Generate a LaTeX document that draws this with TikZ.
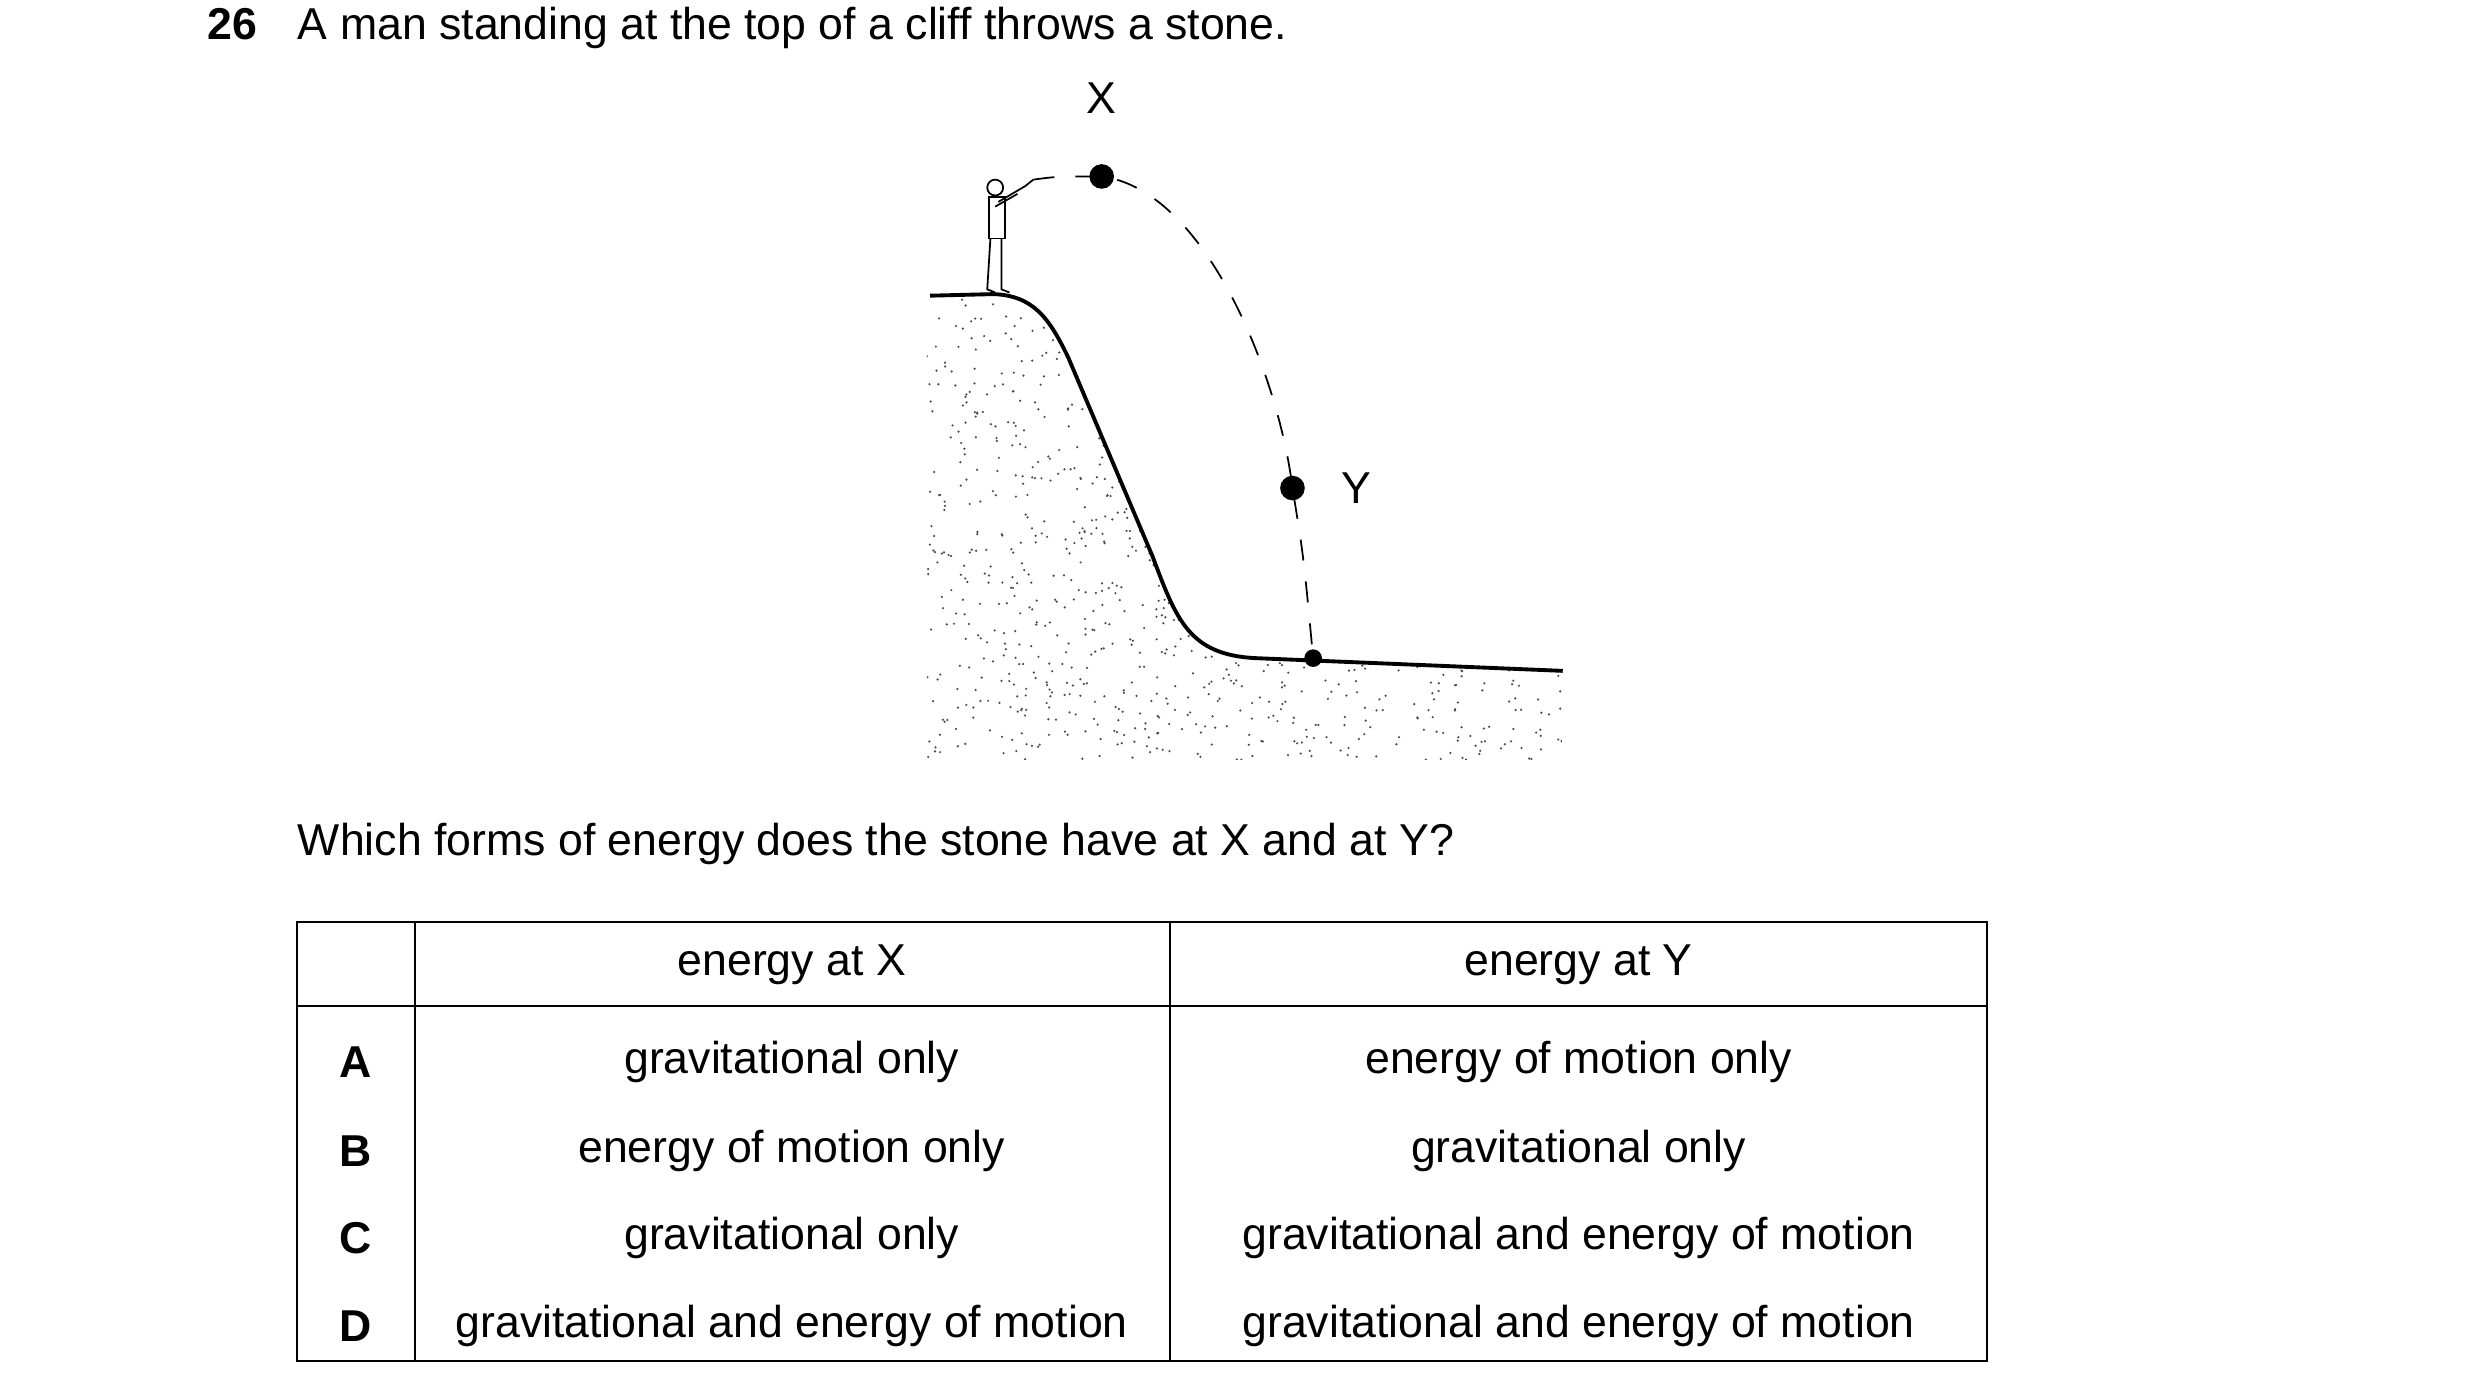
\documentclass[tikz,border=0pt]{standalone}
\usepackage{fontspec}
\setmainfont{Liberation Sans}
\usetikzlibrary{positioning}
\tikzset{
  txt/.style={inner sep=0pt, font=\fontsize{12.7}{15}\selectfont},
  cell/.style={txt, anchor=center},
  letter/.style={txt, font=\fontsize{12.7}{15}\selectfont\bfseries},
  stone/.style={circle, fill=black, inner sep=0pt, minimum size=7pt},
  path/.style={dashed, dash pattern=on 6pt off 6pt, line width=0.5pt},
  ground/.style={line width=1.1pt}
}
\begin{document}
\begin{tikzpicture}[x=0.0159cm, y=-0.0159cm]
\useasboundingbox (0,0) rectangle (1560,877);
% heading
\node[letter, anchor=base west] (num) at (130,25) {26};
\node[txt, anchor=base west] (head) at (187,25) {A man standing at the top of a cliff throws a stone.};
% stippled rock
\begin{scope}
  \clip (583,186) -- (625,185) .. controls (650,186) and (660,200) .. (672,225)
    -- (725,350) .. controls (740,390) and (748,412) .. (790,414)
    -- (983,422) -- (983,478) -- (583,478) -- cycle;
  \pgfmathsetseed{7}
  \foreach \i in {1,...,1400}{
    \pgfmathsetmacro{\px}{583+400*rnd}
    \pgfmathsetmacro{\py}{186+292*rnd}
    \fill[black!70] (\px,\py) circle (0.35pt);
  }
\end{scope}
% cliff outline
\draw[ground] (585,186) -- (625,185) .. controls (650,186) and (660,200) .. (672,225)
  -- (725,350) .. controls (740,390) and (748,412) .. (790,414) -- (983,422);
% man
\begin{scope}[line width=0.5pt]
  \draw (626,118) circle (5);
  \draw (622,124) rectangle (632,150);
  \draw (623,150) -- (621,182) -- (626,184);
  \draw (630,150) -- (630,182) -- (635,184);
  \draw (628,127) -- (645,117) -- (650,113);
  \draw (626,130) -- (640,122);
\end{scope}
\coordinate (hand) at (650,113);
% stone positions
\node[stone] (X) at (693,111) {};
\node[stone] (Y) at (813,307) {};
\node[stone, minimum size=5pt] (land) at (826,414) {};
\node[txt, above=14pt of X] (Xlab) {X};
\node[txt, right=10pt of Y] (Ylab) {Y};
\draw[path] (hand) .. controls (665,111) .. (X.center)
  .. controls (760,120) and (805,240) .. (Y.center)
  .. controls (820,350) .. (land.center);
% question
\node[txt, anchor=base west] (quest) at (187,538) {Which forms of energy does the stone have at X and at Y?};
% table
\draw[line width=0.6pt] (187,580) rectangle (1250,856);
\draw[line width=0.6pt] (187,633) -- (1250,633);
\draw[line width=0.6pt] (261,580) -- (261,856);
\draw[line width=0.6pt] (736,580) -- (736,856);
\node[cell] (hX) at (498,607) {energy at X};
\node[cell] (hY) at (993,607) {energy at Y};
\foreach \r/\y/\a/\b in {A/668/gravitational only/energy of motion only,
  B/724/energy of motion only/gravitational only,
  C/779/gravitational only/gravitational and energy of motion,
  D/834/gravitational and energy of motion/gravitational and energy of motion}{
  \node[letter] (l\r) at (224,\y) {\r};
  \node[cell] (x\r) at (498,\y) {\a};
  \node[cell] (y\r) at (993,\y) {\b};
}
\end{tikzpicture}
\end{document}
